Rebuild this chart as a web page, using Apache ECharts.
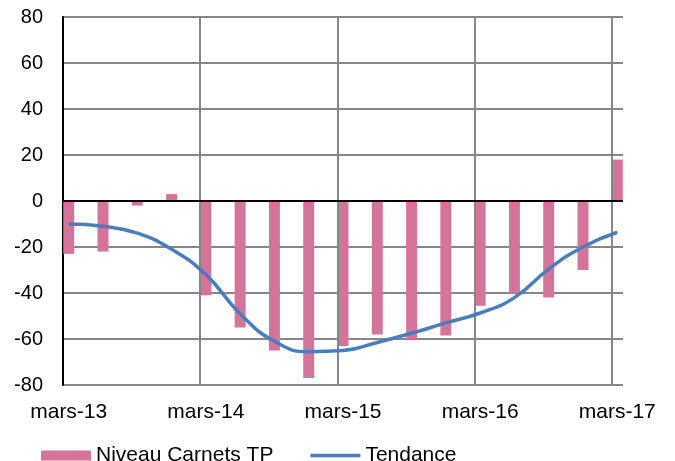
<!DOCTYPE html>
<html>
<head>
<meta charset="utf-8">
<script src="https://cdn.jsdelivr.net/npm/echarts@6/dist/echarts.min.js"></script>
<style>html,body{margin:0;padding:0;background:#fff}#c{width:675px;height:461px}</style>
</head>
<body>
<div id="c"></div>
<script>
var monthNames = ['mars','avr','mai','juin','juil','août','sept','oct','nov','déc','janv','févr'];
var startYear = 13, monthCount = 49;
var barValues = [-23, -22, -2, 3, -41, -55, -65, -77, -63, -58, -60, -58.5, -45.5, -40, -42, -30, 18];
var trendValues = [-10, -11, -14, -21, -32, -49, -61, -65.5, -65, -61.5, -57.5, -53, -48.7, -42, -29.6, -20, -13.6];
var yTicks = [-80, -60, -40, -20, 0, 20, 40, 60, 80];
var yearBoundaries = [12, 24, 36, 48];

var categories = [];
for (var i = 0; i < monthCount; i++) {
  var yr = startYear + Math.floor((i + 2) / 12);
  categories.push(monthNames[i % 12] + '-' + yr);
}
var barMonthly = [], trendMonthly = [];
for (var i = 0; i < monthCount; i++) { barMonthly.push(null); trendMonthly.push(null); }
for (var q = 0; q < barValues.length; q++) {
  barMonthly[q * 3] = barValues[q];
  trendMonthly[q * 3] = trendValues[q];
}

var FONT = 'Liberation Sans, Arial, sans-serif';
var GRID = '#868686';
var chart = echarts.init(document.getElementById('c'));
chart.setOption({
  animation: false,
  textStyle: {fontFamily: FONT},
  grid: {left: 63, right: 52, top: 17, bottom: 76},
  legend: {
    left: 36, top: 440,
    itemGap: 37,
    textStyle: {fontSize: 21, color: '#000', fontFamily: FONT},
    data: [
      {name: 'Niveau Carnets TP', icon: 'rect', itemStyle: {color: '#D4749A'}},
      {name: 'Tendance', icon: 'path://M0,0 L53,0 L53,3.5 L0,3.5 Z', itemStyle: {color: '#4A7EBB'}}
    ],
    itemWidth: 50, itemHeight: 10
  },
  xAxis: [{
    type: 'category',
    data: categories,
    boundaryGap: true,
    axisLine: {show: false, onZero: false},
    axisTick: {show: false},
    axisLabel: {
      interval: function (idx) { return idx % 12 === 0; },
      fontSize: 21, color: '#000', margin: 17,
      fontFamily: FONT
    },
    splitLine: {show: false}
  }, {
    type: 'value',
    min: 0, max: monthCount,
    show: false,
    splitLine: {show: false}
  }],
  yAxis: {
    type: 'value',
    min: yTicks[0], max: yTicks[yTicks.length - 1], interval: 20,
    axisLine: {show: true, lineStyle: {color: '#000', width: 2}},
    axisTick: {show: false},
    axisLabel: {fontSize: 20, color: '#000', margin: 20, fontFamily: FONT},
    splitLine: {show: true, lineStyle: {color: GRID, width: 2}}
  },
  series: [
    {
      name: 'yearGrid',
      type: 'line',
      xAxisIndex: 1,
      data: [],
      z: 1,
      silent: true,
      markLine: {
        silent: true, symbol: 'none',
        label: {show: false},
        lineStyle: {color: GRID, width: 2, type: 'solid'},
        data: yearBoundaries.map(function (m) { return {xAxis: m}; })
      }
    },
    {
      name: 'Niveau Carnets TP',
      type: 'bar',
      data: barMonthly,
      barWidth: 11,
      z: 2,
      itemStyle: {color: '#D4749A'},
      markLine: {
        silent: true, symbol: 'none',
        label: {show: false},
        lineStyle: {color: '#000', width: 2, type: 'solid'},
        data: [{yAxis: 0}]
      }
    },
    {
      name: 'Tendance',
      type: 'line',
      data: trendMonthly,
      connectNulls: true,
      smooth: 0.5,
      symbol: 'none',
      lineStyle: {color: '#4A7EBB', width: 3.5},
      itemStyle: {color: '#4A7EBB'},
      z: 5
    }
  ]
});
</script>
</body>
</html>
